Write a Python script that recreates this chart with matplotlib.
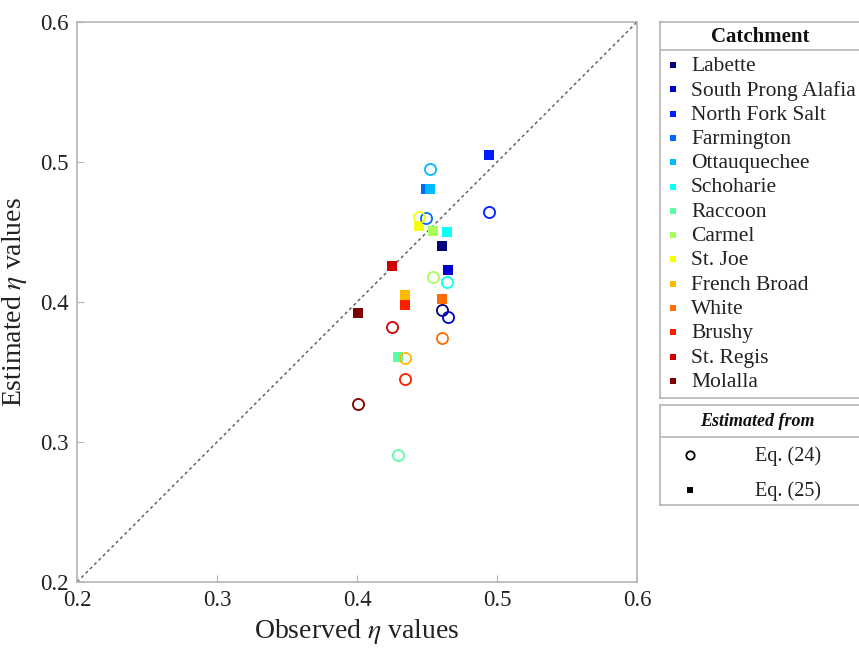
import matplotlib
matplotlib.use('Agg')
import matplotlib.pyplot as plt
import numpy as np

plt.rcParams['font.family'] = ['Liberation Serif', 'DejaVu Serif']
plt.rcParams['mathtext.fontset'] = 'stix'

catchments = ['Labette', 'South Prong Alafia', 'North Fork Salt', 'Farmington',
              'Ottauquechee', 'Schoharie', 'Raccoon', 'Carmel', 'St. Joe',
              'French Broad', 'White', 'Brushy', 'St. Regis', 'Molalla']
observed = [0.461, 0.465, 0.494, 0.449, 0.452, 0.464, 0.429, 0.454, 0.444,
            0.434, 0.461, 0.434, 0.425, 0.401]
# Eq. (24) estimates (open circles)
est_eq24 = [0.394, 0.389, 0.464, 0.460, 0.495, 0.414, 0.291, 0.418, 0.461,
            0.360, 0.374, 0.345, 0.382, 0.327]
# Eq. (25) estimates (filled squares)
est_eq25 = [0.440, 0.423, 0.505, 0.481, 0.481, 0.450, 0.361, 0.451, 0.454,
            0.405, 0.402, 0.398, 0.426, 0.392]


def matlab_jet(n):
    # matlab style jet (a bit different from matplotlib's jet)
    t = np.linspace(0, 1, n)
    r = np.interp(t, [0, 3/8, 5/8, 7/8, 1], [0, 0, 1, 1, 0.5])
    g = np.interp(t, [0, 1/8, 3/8, 5/8, 7/8, 1], [0, 0, 1, 1, 0, 0])
    b = np.interp(t, [0, 1/8, 3/8, 5/8, 1], [0.5, 1, 1, 0, 0])
    return np.column_stack([r, g, b])


colors = matlab_jet(len(catchments))
grey = '#b4b4b4'

fig = plt.figure(figsize=(8.59, 6.48), dpi=100)
ax = fig.add_axes([77/859, 66/648, 560/859, 560/648])

ax.plot([0.2, 0.6], [0.2, 0.6], color='#555555', linestyle=(0, (2.2, 2.2)), lw=1.0, zorder=1)

for i in range(len(catchments)):
    ax.plot(observed[i], est_eq25[i], 's', color=colors[i], ms=6.5, mew=0, zorder=2)
for i in range(len(catchments)):
    ax.plot(observed[i], est_eq24[i], 'o', mfc='none', mec=colors[i], ms=8, mew=1.3, zorder=3)

ax.set_xlim(0.2, 0.6)
ax.set_ylim(0.2, 0.6)
ticks = [0.2, 0.3, 0.4, 0.5, 0.6]
ax.set_xticks(ticks)
ax.set_yticks(ticks)
ax.set_xticklabels([str(t) for t in ticks])
ax.set_yticklabels([str(t) for t in ticks])
ax.tick_params(direction='in', length=5, color=grey, labelsize=16.5, labelcolor='#222222', pad=6)
for s in ax.spines.values():
    s.set_color(grey)
    s.set_linewidth(1.2)
ax.set_xlabel(r'Observed $\eta$ values', fontsize=20, color='#222222', labelpad=4)
ax.set_ylabel(r'Estimated $\eta$ values', fontsize=20, color='#222222', labelpad=8)

# legend box 1: Catchment
lg = fig.add_axes([660/859, (648-398)/648, 210/859, 376/648])
lg.set_xlim(660, 870)
lg.set_ylim(398, 22)
lg.set_xticks([])
lg.set_yticks([])
for s in lg.spines.values():
    s.set_color(grey)
    s.set_linewidth(1.2)
lg.text(760, 37, 'Catchment', fontsize=15, fontweight='bold', ha='center', va='center', color='#111111')
lg.axhline(50, color=grey, lw=1.2)
for i, name in enumerate(catchments):
    yy = 65 + i * 24.3
    lg.plot(673, yy, 's', color=colors[i], ms=4.5, mew=0)
    lg.text(691, yy + 1.5, name, fontsize=15.5, va='center', color='#222222')

# legend box 2: Estimated from
lg2 = fig.add_axes([660/859, (648-505)/648, 210/859, 100/648])
lg2.set_xlim(660, 870)
lg2.set_ylim(505, 405)
lg2.set_xticks([])
lg2.set_yticks([])
for s in lg2.spines.values():
    s.set_color(grey)
    s.set_linewidth(1.2)
lg2.text(757, 422, 'Estimated from', fontsize=13, fontweight='bold', fontstyle='italic',
         ha='center', va='center', color='#111111')
lg2.axhline(437, color=grey, lw=1.2)
lg2.plot(690, 455, 'o', mfc='none', mec='black', ms=6, mew=1.3)
lg2.plot(690, 490, 's', color='black', ms=5, mew=0)
lg2.text(788, 456, 'Eq. (24)', fontsize=14.5, ha='center', va='center', color='#222222')
lg2.text(788, 491, 'Eq. (25)', fontsize=14.5, ha='center', va='center', color='#222222')

fig.savefig('out.png', dpi=100)
